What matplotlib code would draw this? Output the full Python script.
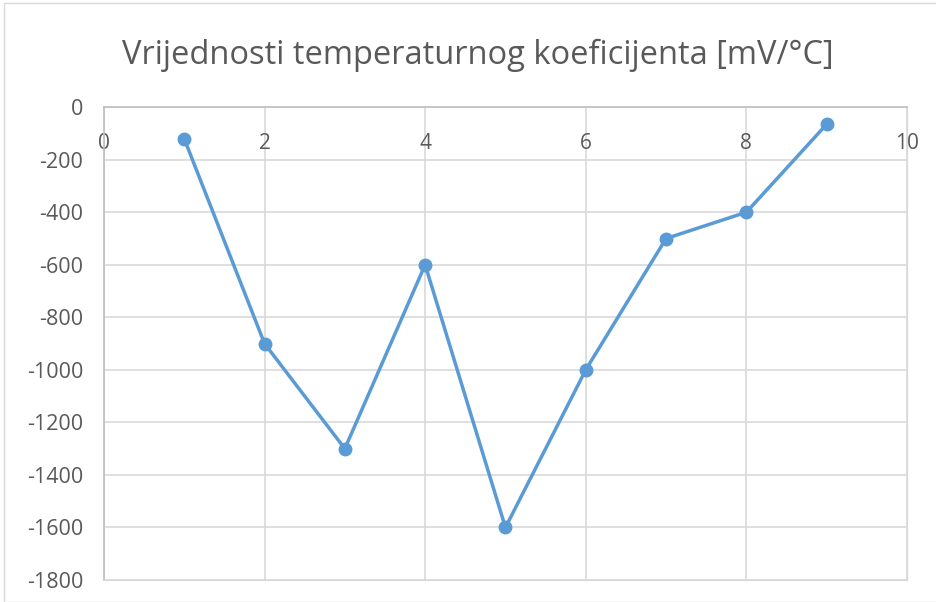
import matplotlib.pyplot as plt
from matplotlib.patches import Rectangle

# temperature coefficient per measurement
x_vals = [1, 2, 3, 4, 5, 6, 7, 8, 9]
coef_vals = [-120, -900, -1300, -600, -1600, -1000, -500, -400, -65]

x_ticks = [0, 2, 4, 6, 8, 10]
y_ticks = list(range(0, -1801, -200))

LINE_COLOR = '#5B9BD5'
GRID_COLOR = '#D9D9D9'
TEXT_COLOR = '#595959'

plt.rcParams['font.family'] = ['Open Sans', 'DejaVu Sans']
plt.rcParams['axes.unicode_minus'] = False

fig = plt.figure(figsize=(9.36, 6.02), dpi=100)
ax = fig.add_axes([0.111, 0.0365, 0.858, 0.7855])

# chart border
fig.patches.append(Rectangle((4 / 936, 0), 1.0, 1 - 3 / 602, transform=fig.transFigure,
                             fill=False, edgecolor=GRID_COLOR, linewidth=1))

ax.plot(x_vals, coef_vals, color=LINE_COLOR, linewidth=2.5, marker='o',
        markersize=9, zorder=3)

ax.set_xlim(0, 10)
ax.set_ylim(-1800, 0)
ax.set_xticks(x_ticks)
ax.set_yticks(y_ticks)
ax.grid(True, color=GRID_COLOR, linewidth=1.2)
ax.set_axisbelow(True)

for side in ['right', 'bottom']:
    ax.spines[side].set_color(GRID_COLOR)
for side in ['left', 'top']:
    ax.spines[side].set_color('#BFBFBF')
    ax.spines[side].set_linewidth(1.2)

# x labels sit just under the zero line
ax.xaxis.tick_top()
ax.tick_params(axis='x', top=False, labeltop=True, bottom=False, labelbottom=False,
               length=0, pad=-34, labelsize=15, labelcolor=TEXT_COLOR)
ax.tick_params(axis='y', length=0, pad=15, labelsize=15.5, labelcolor=TEXT_COLOR)

fig.text(478 / 936, 1 - 55 / 602, 'Vrijednosti temperaturnog koeficijenta [mV/°C]',
         ha='center', va='center', fontsize=23.5, color=TEXT_COLOR)

fig.savefig('out.png', dpi=100)
